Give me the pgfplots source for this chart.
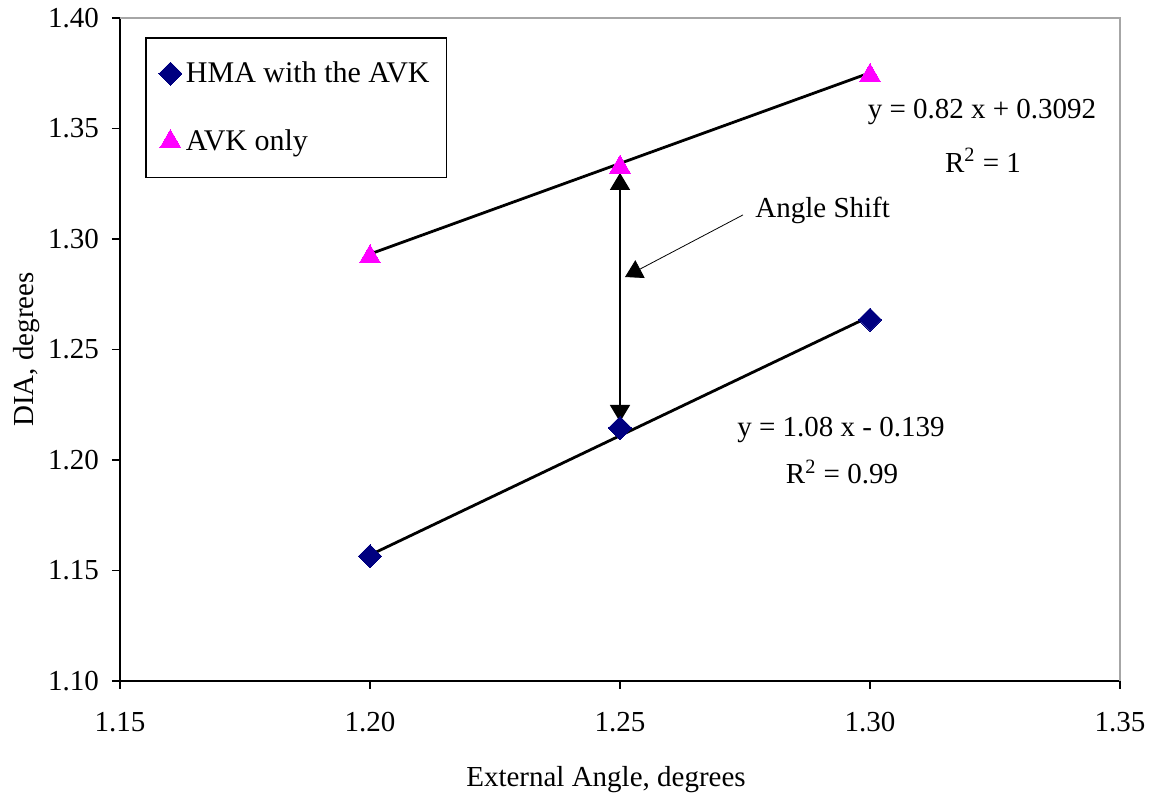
\documentclass[border=0pt]{standalone}
\usepackage{fontspec}
\setmainfont{Liberation Serif}
\usepackage{pgfplots}
\pgfplotsset{compat=1.18}
\usetikzlibrary{arrows.meta}
\definecolor{navyc}{RGB}{0,0,128}
\definecolor{magc}{RGB}{255,0,255}
\newcommand{\tf}{\fontsize{14.5}{17}\selectfont}
\newcommand{\lf}{\fontsize{15}{17}\selectfont}
\begin{document}
\begin{tikzpicture}
\path[use as bounding box] (-60pt,-60pt) rectangle (516pt,340.5pt);
\begin{axis}[
  scale only axis, width=500pt, height=331.5pt,
  xmin=1.15, xmax=1.35, ymin=1.10, ymax=1.40,
  xtick={1.15,1.2,1.25,1.3,1.35},
  ytick={1.1,1.15,1.2,1.25,1.3,1.35,1.4},
  axis lines=left, axis line style={-, black, line width=0.8pt},
  tick align=outside, major tick length=4pt,
  tick style={black, line width=0.8pt},
  clip=false,
  /pgf/number format/.cd, fixed, fixed zerofill, precision=2, assume math mode=true, /pgfplots/.cd,
  tick label style={font=\tf},
  xticklabel style={yshift=-8pt},
  yticklabel style={xshift=-3pt},
  xlabel={External Angle, degrees},
  ylabel={DIA, degrees},
  label style={font=\tf},
  xlabel style={at={(axis description cs:0.486,-0.1493)}, anchor=center},
  ylabel style={at={(axis description cs:-0.093,0.5)}, anchor=center},
  legend style={at={(rel axis cs:0.025,0.9713)}, anchor=north west, draw=black, line width=0.8pt,
    font=\lf, inner xsep=6.5pt, inner ysep=10pt, row sep=18pt,
    /tikz/every even column/.append style={column sep=5.5pt}},
  legend cell align=left,
  legend image code/.code={\draw[#1] plot coordinates {(0pt,0pt)};},
]
\addplot[only marks, mark=square*, mark size=4.1pt, mark options={rotate=45, fill=navyc, draw=navyc, line width=0pt}]
  coordinates {(1.20,1.1565) (1.25,1.2145) (1.30,1.2635)};
\addlegendentry{HMA with the AVK}
\addplot[only marks, mark=triangle*, mark size=6pt, mark options={fill=magc, draw=magc, line width=0pt}]
  coordinates {(1.20,1.2920) (1.25,1.3325) (1.30,1.3740)};
\addlegendentry{AVK only}
\addplot[black, line width=1.4pt, forget plot] coordinates {(1.20,1.157) (1.30,1.265)};
\addplot[black, line width=1.4pt, forget plot] coordinates {(1.20,1.2932) (1.30,1.3752)};
\draw[gray!70, line width=0.8pt] (rel axis cs:0,1) -- (rel axis cs:1,1) -- (rel axis cs:1,0);
\draw[line width=0.75pt, {Triangle[width=10pt,length=8.5pt]}-{Triangle[width=10pt,length=8.5pt]}]
  (axis cs:1.25,1.2172) -- (axis cs:1.25,1.3299);
\draw[line width=0.4pt, -{Triangle[width=10pt,length=8.5pt]}]
  (axis cs:1.2746,1.3109) -- (axis cs:1.251,1.2828);
\node[font=\tf, anchor=west, inner sep=0pt] at (axis cs:1.277,1.3131) {Angle Shift};
\node[font=\tf] at (axis cs:1.3224,1.3575) {y = 0.82 x + 0.3092};
\node[font=\tf] at (axis cs:1.3226,1.3357) {R\textsuperscript{2} = 1};
\node[font=\tf] at (axis cs:1.2942,1.2136) {y = 1.08 x - 0.139};
\node[font=\tf] at (axis cs:1.2944,1.1946) {R\textsuperscript{2} = 0.99};
\end{axis}
\end{tikzpicture}
\end{document}
